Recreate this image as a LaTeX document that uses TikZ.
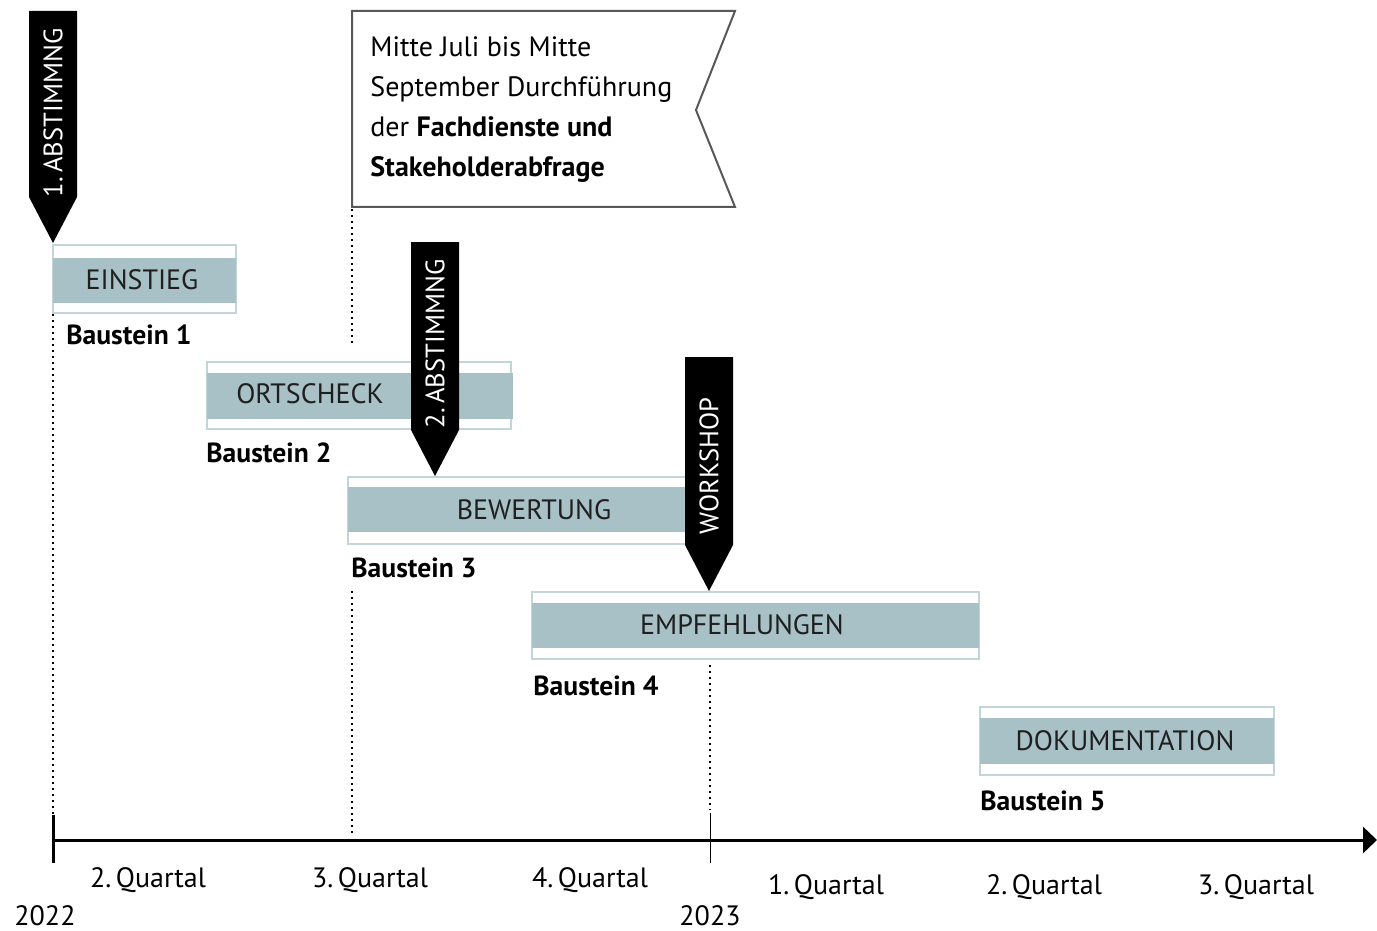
\documentclass[tikz,border=0pt]{standalone}
\usepackage{fontspec}
\setmainfont{PT Sans}
\usetikzlibrary{arrows.meta}
\definecolor{boxfill}{RGB}{167,193,198}
\definecolor{boxline}{RGB}{196,213,218}
\definecolor{calloutline}{RGB}{88,88,88}
\tikzset{
  frame/.style={draw=boxline, line width=1pt, fill=white},
  band/.style={fill=boxfill},
  phase/.style={text=black!88, font=\fontsize{14}{16}\selectfont, inner sep=0pt},
  unit/.style={anchor=base west, inner sep=0pt, font=\bfseries\fontsize{13.8}{16}\selectfont},
  flagtext/.style={text=white, rotate=90, inner sep=0pt, font=\fontsize{13.3}{15}\selectfont},
  callout/.style={draw=calloutline, line width=1pt},
  callouttext/.style={align=left, inner sep=0pt, font=\fontsize{14}{20}\selectfont},
  guide/.style={dotted, line width=1pt},
  axis/.style={line width=1.5pt, -{Triangle[length=7pt,width=13pt]}},
  quarter/.style={anchor=base, inner sep=0pt, font=\fontsize{14}{16}\selectfont},
}
\def\milestone(#1,#2,#3,#4)[#5]#6{%
  \fill[black] ({#1-24},#2) -- ({#1+24},#2) -- ({#1+24},#3) -- (#1,{#3+46}) -- ({#1-24},#3) -- cycle;
  \node[flagtext] (#5) at (#1,#4) {#6};}
\begin{document}
\begin{tikzpicture}[x=0.5pt,y=-0.5pt]
	%%%%% START %%%%%
	\useasboundingbox (0,0) rectangle (1377,931);
	
	% Fachdienste / Stakeholder
	\draw[callout] (352,11) -- (735,11) -- (696,110) -- (735,207) -- (352,207) -- cycle;
	\node[callouttext, anchor=north west] (abfrage) at (370,36) {Mitte Juli bis Mitte\\September Durchführung\\der \textbf{Fachdienste und}\\\textbf{Stakeholderabfrage}};
	
	\draw[guide] (53,314) -- (53,815);
	\draw[guide] (352,209) -- (352,345);
	\draw[guide] (352,591) -- (352,833);
	\draw[guide] (710,665) -- (710,810);
	
	% Bausteine
	\draw[frame] (53,245) rectangle (236,313);
	\fill[band] (53,258) rectangle (236,303);
	\node[phase] (einstieg) at (142,280) {EINSTIEG};
	\node[unit] (b1) at (66,344) {Baustein 1};
	
	\draw[frame] (207,362) rectangle (511,429);
	\fill[band] (207,373) rectangle (513,419);
	\node[phase] (ortscheck) at (310,394) {ORTSCHECK};
	\node[unit] (b2) at (206,462) {Baustein 2};
	
	\draw[frame] (348,477) rectangle (720,544);
	\fill[band] (348,487) rectangle (720,532);
	\node[phase] (bewertung) at (534,510) {BEWERTUNG};
	\node[unit] (b3) at (351,577) {Baustein 3};
	
	\draw[frame] (532,592) rectangle (979,659);
	\fill[band] (532,603) rectangle (979,648);
	\node[phase] (empfehlungen) at (742,625) {EMPFEHLUNGEN};
	\node[unit] (b4) at (533,695) {Baustein 4};
	
	\draw[frame] (980,707) rectangle (1274,775);
	\fill[band] (980,718) rectangle (1274,764);
	\node[phase] (doku) at (1125,741) {DOKUMENTATION};
	\node[unit] (b5) at (980,810) {Baustein 5};
	
	% Termine
	\milestone(53,11,197,113)[abst1]{1.\,ABSTIMMNG}
	\milestone(435,242,430,344)[abst2]{2.\,ABSTIMMNG}
	\milestone(709,357,545,466)[workshop]{WORKSHOP}
	
	% Zeitachse
	\draw[axis] (53,840) -- (1377,840);
	\draw[line width=1.5pt] (53,815) -- (53,863);
	\draw[line width=0.5pt] (710,813) -- (710,863);
	
	\node[quarter] (q2) at (148,887) {2.\,Quartal};
	\node[quarter] (q3) at (370,887) {3.\,Quartal};
	\node[quarter] (q4) at (590,887) {4.\,Quartal};
	\node[quarter] (q5) at (826,894) {1.\,Quartal};
	\node[quarter] (q6) at (1044,894) {2.\,Quartal};
	\node[quarter] (q7) at (1256,894) {3.\,Quartal};
	\node[quarter] (y22) at (45,925) {2022};
	\node[quarter] (y23) at (710,925) {2023};
	
	%%%%% END %%%%%
\end{tikzpicture}
\end{document}
